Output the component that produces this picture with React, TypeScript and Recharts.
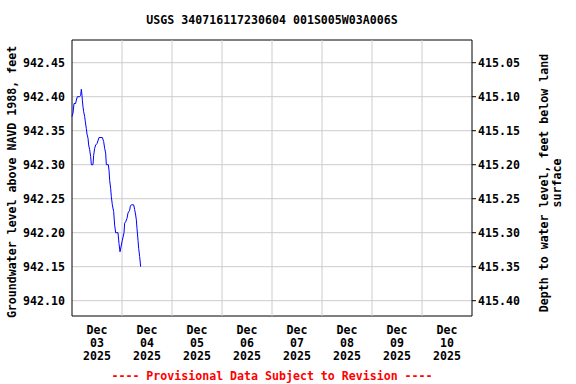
import { LineChart, Line, XAxis, YAxis, CartesianGrid, ReferenceLine, ReferenceArea } from 'recharts';

// ─── Data ────────────────────────────────────────────────────────────────────
// hours since Dec 03 2025 00:00
const hours = [
  0.0, 0.48, 0.96, 1.76, 2.08, 2.56, 3.68, 4.16, 4.48, 4.8, 4.96, 5.28, 5.6, 6.08, 6.4, 6.88,
  7.2, 7.68, 8.0, 8.48, 8.96, 9.28, 10.08, 10.4, 10.88, 11.36, 12.0, 12.96, 14.56, 15.2, 15.68,
  16.16, 16.48, 17.44, 17.76, 18.08, 18.56, 18.88, 19.36, 20.0, 20.48, 20.96, 22.08, 22.56,
  23.04, 23.52, 24.16, 24.96, 25.28, 25.76, 26.4, 26.88, 27.68, 28.0, 28.48, 29.6, 30.08,
  30.56, 30.88, 31.2, 31.68, 32.0, 32.48, 32.96,
];
const levels = [
  942.371, 942.376, 942.39, 942.39, 942.395, 942.4, 942.4, 942.402, 942.411, 942.402, 942.395,
  942.385, 942.378, 942.371, 942.363, 942.353, 942.345, 942.339, 942.329, 942.322, 942.312,
  942.3, 942.3, 942.314, 942.324, 942.329, 942.331, 942.34, 942.34, 942.334, 942.324, 942.317,
  942.3, 942.3, 942.292, 942.277, 942.265, 942.253, 942.241, 942.231, 942.211, 942.2, 942.2,
  942.184, 942.172, 942.179, 942.189, 942.2, 942.214, 942.216, 942.221, 942.229, 942.233,
  942.239, 942.241, 942.241, 942.234, 942.226, 942.219, 942.206, 942.189, 942.177, 942.165,
  942.15,
];
const LAND_DATUM = 1357.5; // level + depth

const leftTicks = [942.1, 942.15, 942.2, 942.25, 942.3, 942.35, 942.4, 942.45];
const rightTicks = [415.05, 415.1, 415.15, 415.2, 415.25, 415.3, 415.35, 415.4];
const dayTicks = [12, 36, 60, 84, 108, 132, 156, 180];
const dayLabels = ['03', '04', '05', '06', '07', '08', '09', '10'];
const dayBounds = [24, 48, 72, 96, 120, 144, 168];

const LEFT_DOMAIN: [number, number] = [942.0775, 942.4834];
const RIGHT_DOMAIN: [number, number] = [LAND_DATUM - LEFT_DOMAIN[1], LAND_DATUM - LEFT_DOMAIN[0]];

const data = hours.map((h, i) => ({ h, level: levels[i], depth: LAND_DATUM - levels[i] }));

const FONT = '"DejaVu Sans Mono", "Liberation Mono", monospace';
const GRID = '#cccccc';

// ─── Custom x tick (three lines) ──────────────────────────────────────────────

// eslint-disable-next-line @typescript-eslint/no-explicit-any
function DayTick(props: any) {
  const { x, y, payload } = props;
  const idx = dayTicks.indexOf(payload.value);
  return (
    <text x={x} y={y} textAnchor="middle" fontFamily={FONT} fontSize={11.6} fontWeight="bold" fill="#000">
      <tspan x={x} dy={10}>Dec</tspan>
      <tspan x={x} dy={13}>{dayLabels[idx]}</tspan>
      <tspan x={x} dy={13}>2025</tspan>
    </text>
  );
}

// ─── Component ────────────────────────────────────────────────────────────────

export default function App() {
  const tickStyle = { fontFamily: FONT, fontSize: 11.6, fontWeight: 'bold', fill: '#000' };
  return (
    <div style={{ position: 'absolute', left: 0, top: 0, width: 576, height: 384, background: '#fff' }}>
      <LineChart width={576} height={384} data={data} margin={{ top: 40, right: 44, bottom: 8, left: 12 }}>
        <CartesianGrid yAxisId="left" vertical={false} stroke={GRID} horizontalValues={leftTicks} />
        {dayBounds.map((d) => (
          <ReferenceLine key={d} yAxisId="left" x={d} stroke={GRID} />
        ))}
        <XAxis
          dataKey="h"
          type="number"
          domain={[0, 192]}
          ticks={dayTicks}
          tick={<DayTick />}
          tickLine={false}
          axisLine={false}
          height={60}
          interval={0}
        />
        <YAxis
          yAxisId="left"
          type="number"
          domain={LEFT_DOMAIN}
          ticks={leftTicks}
          tickFormatter={(v: number) => v.toFixed(2)}
          tick={tickStyle}
          tickSize={4}
          tickMargin={3}
          tickLine={false}
          axisLine={false}
          width={60}
          allowDataOverflow
        />
        <YAxis
          yAxisId="right"
          orientation="right"
          type="number"
          domain={RIGHT_DOMAIN}
          reversed
          ticks={rightTicks}
          tickFormatter={(v: number) => v.toFixed(2)}
          tick={tickStyle}
          tickSize={4}
          tickLine={{ stroke: '#000' }}
          axisLine={false}
          width={60}
          allowDataOverflow
        />
        <ReferenceArea
          yAxisId="left"
          x1={0}
          x2={192}
          y1={LEFT_DOMAIN[0]}
          y2={LEFT_DOMAIN[1]}
          fill="none"
          fillOpacity={0}
          stroke="#000"
          strokeWidth={1}
        />
        <Line
          yAxisId="right"
          dataKey="depth"
          stroke="none"
          dot={false}
          isAnimationActive={false}
          legendType="none"
        />
        <Line
          yAxisId="left"
          dataKey="level"
          type="linear"
          stroke="#0000ff"
          strokeWidth={1}
          dot={false}
          isAnimationActive={false}
        />
      </LineChart>

      {/* Titles and axis captions */}
      <svg width={576} height={384} style={{ position: 'absolute', left: 0, top: 0, pointerEvents: 'none' }}>
        <text x={272} y={24} textAnchor="middle" fontFamily={FONT} fontSize={11.6} fontWeight="bold">
          USGS 340716117230604 001S005W03A006S
        </text>
        <text
          x={16}
          y={182}
          textAnchor="middle"
          transform="rotate(-90 16 182)"
          fontFamily={FONT}
          fontSize={11.6}
          fontWeight="bold"
        >
          Groundwater level above NAVD 1988, feet
        </text>
        <text
          x={548}
          y={183}
          textAnchor="middle"
          transform="rotate(-90 548 183)"
          fontFamily={FONT}
          fontSize={11.6}
          fontWeight="bold"
        >
          Depth to water level, feet below land
        </text>
        <text
          x={561}
          y={183}
          textAnchor="middle"
          transform="rotate(-90 561 183)"
          fontFamily={FONT}
          fontSize={11.6}
          fontWeight="bold"
        >
          surface
        </text>
        <text x={272} y={380} textAnchor="middle" fontFamily={FONT} fontSize={11.6} fontWeight="bold" fill="#ff0000">
          ---- Provisional Data Subject to Revision ----
        </text>
      </svg>
    </div>
  );
}
